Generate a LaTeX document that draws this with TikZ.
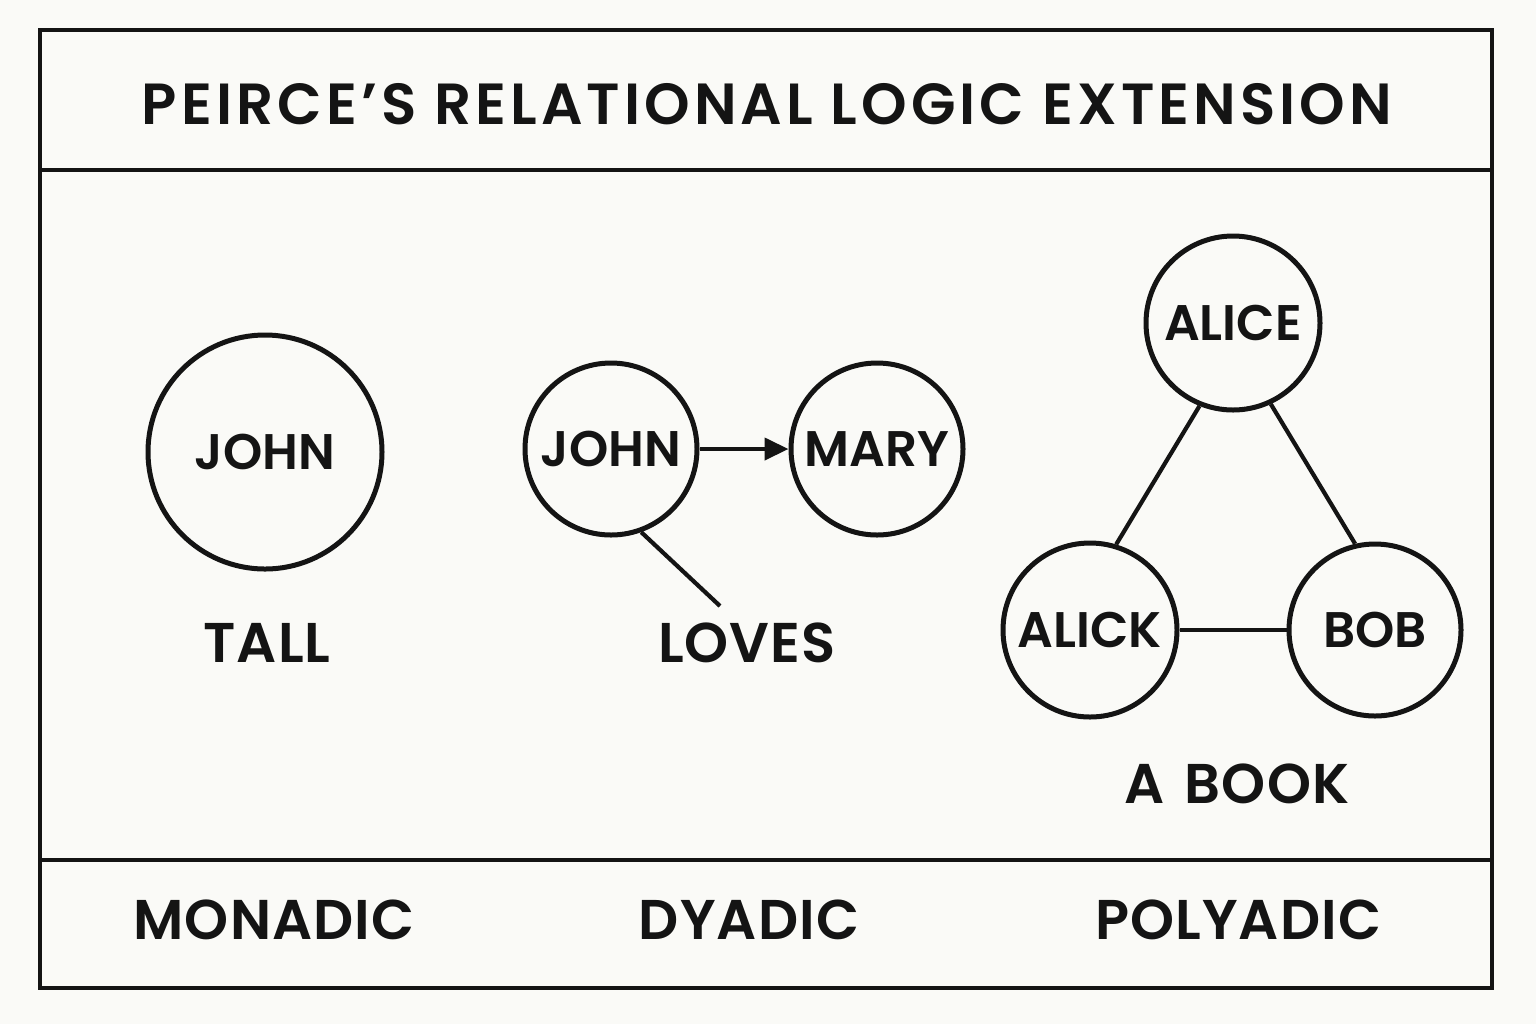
\documentclass[tikz,border=0pt]{standalone}
\usepackage{fontspec}
\setmainfont{Poppins}
\newfontfamily\semfont{Poppins SemiBold}
\newfontfamily\semtitle{Poppins SemiBold}[LetterSpace=7]
\newfontfamily\semlbl{Poppins SemiBold}[LetterSpace=2]
\usetikzlibrary{arrows.meta}
\definecolor{paper}{HTML}{FAFAF7}
\definecolor{ink}{HTML}{141414}
\tikzset{
  every node/.style={text=ink},
  ent/.style={circle, draw=ink, line width=2.5pt, inner sep=0pt},
  lbl/.style={font=\semlbl\fontsize{28}{32}\selectfont},
  elbl/.style={font=\semfont\fontsize{25}{28}\selectfont},
  conn/.style={draw=ink, line width=2.1pt},
  frame/.style={draw=ink, line width=2.2pt},
}
\begin{document}
\begin{tikzpicture}[x=0.5pt, y=-0.5pt]
\fill[paper] (0,0) rectangle (1536,1024);
\useasboundingbox (0,0) rectangle (1536,1024);
\draw[frame] (40,30) rectangle (1492,988);
\draw[frame] (40,170) -- (1492,170);
\draw[frame] (40,860) -- (1492,860);
\node[font=\semtitle\fontsize{29}{32}\selectfont] (title) at (767,104) {PEIRCE’S RELATIONAL LOGIC EXTENSION};
% monadic
\node[ent, minimum size=117pt, elbl] (j1) at (265,452) {JOHN};
\node[lbl] (tall) at (267,643) {TALL};
% dyadic
\node[ent, minimum size=86pt, elbl] (j2) at (611,449) {JOHN};
\node[ent, minimum size=86pt, elbl] (mary) at (877,449) {MARY};
\node[lbl] (loves) at (747,643) {LOVES};
\coordinate (lovesend) at (720,606);
\draw[conn, -{Triangle[length=12pt,width=11pt]}] (j2) -- (mary);
\draw[conn] (j2.-70) -- (lovesend);
% polyadic
\node[ent, minimum size=87pt, elbl] (alice) at (1233,323) {ALICE};
\node[ent, minimum size=87pt, elbl] (alick) at (1090,630) {ALICK};
\node[ent, minimum size=86pt, elbl] (bob) at (1375,630) {BOB};
\draw[conn] (alice.-112) -- (alick.73.5);
\draw[conn] (alice.-65.5) -- (bob.103.7);
\draw[conn] (alick) -- (bob);
\node[lbl] (book) at (1237,784) {A\hspace{10pt}BOOK};
% bottom labels
\node[lbl] (mon) at (274,920) {MONADIC};
\node[lbl] (dya) at (749,920) {DYADIC};
\node[lbl] (pol) at (1238,920) {POLYADIC};
\end{tikzpicture}
\end{document}
